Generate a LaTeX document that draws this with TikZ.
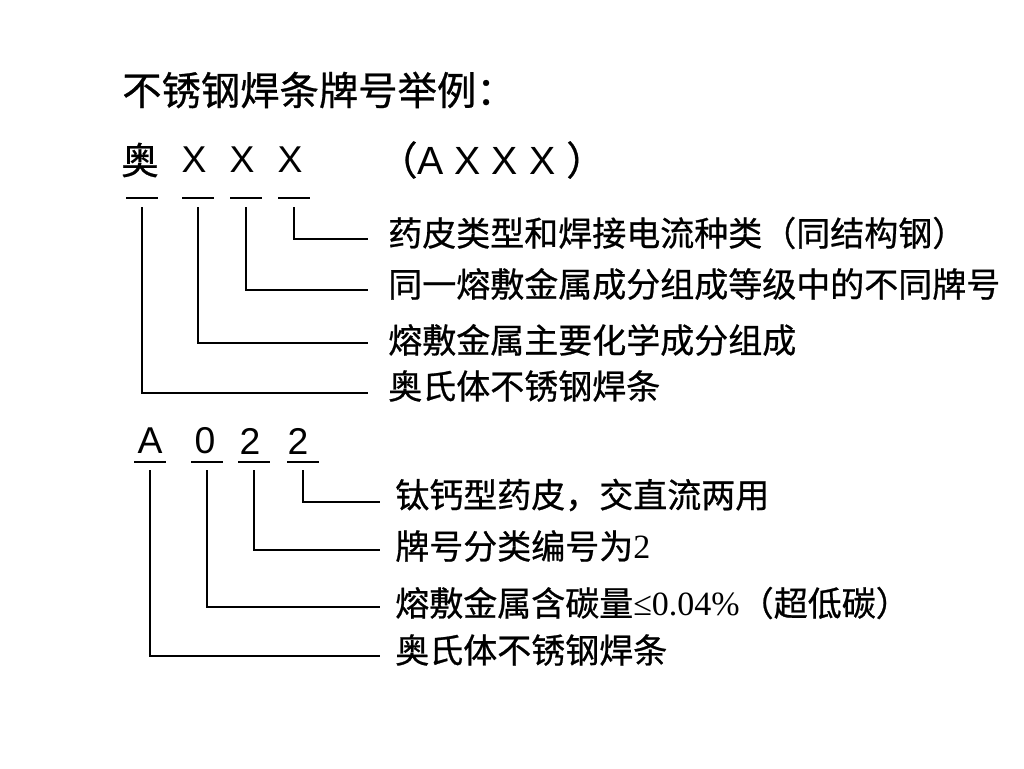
\documentclass[tikz,border=0pt]{standalone}
\usepackage{fontspec}
\setmainfont{Liberation Sans}
\newfontfamily\cjk[FakeBold=0.7]{Noto Sans CJK SC}
\newfontfamily\tnr{Liberation Serif}
\usetikzlibrary{positioning,calc}
\tikzset{
    bar/.style={
        ,   line width=1.5pt
        ,   draw=black
    },
    link/.style={
        ,   line width=1.5pt
        ,   draw=black
    },
    code/.style={
        ,   inner sep=0pt
        ,   font=\fontsize{28pt}{30pt}\selectfont
    },
    lbl/.style={
        ,   anchor=west
        ,   inner sep=0pt
        ,   font=\fontsize{25.5pt}{27pt}\selectfont\cjk
    },
}

\begin{document}
\begin{tikzpicture}[x=0.75pt, y=-0.75pt, inner sep=0pt]
	\fill[white] (0,0) rectangle (1024,768);
	\useasboundingbox (0,0) rectangle (1024,768);
	\node[code, anchor=west, font=\fontsize{29.5pt}{31pt}\selectfont] (title) at (122,90) {\cjk 不锈钢焊条牌号举例：};

	% first code: 奥 X X X
	\node[code] (c0) at (140,160) {\cjk 奥};
	\foreach \a/\x in {1/194,2/242,3/290}{
	\node[code] (c\a) at (\x,160) {X};
	}
	\node[code, anchor=west, font=\fontsize{29.5pt}{31pt}\selectfont] (cA) at (378,160) {{\cjk （}A X X X {\cjk ）}};

	\foreach \a/\x/\y/\ty/\t in {1/294/239/233/药皮类型和焊接电流种类（同结构钢）,
	                            2/246/290/284/同一熔敷金属成分组成等级中的不同牌号,
	                            3/198/343/340/熔敷金属主要化学成分组成,
	                            4/142/393/386/奥氏体不锈钢焊条}{
	\coordinate (tu\a) at (\x-16,198);
	\coordinate (tw\a) at (\x+16,198);
	\draw[bar] (tu\a) -- (tw\a);
	\coordinate (tv\a) at (\x,207);
	\coordinate (te\a) at (368,\y);
	\draw[link] (tv\a) |- (te\a);
	\node[lbl] (tl\a) at (388,\ty) {\t};
	}

	% second code: A 0 2 2
	\node[code] (d0) at (150,441) {A};
	\foreach \a/\x/\s in {1/205/0,2/250/2,3/298/2}{
	\node[code] (d\a) at (\x,441) {\s};
	}

	\foreach \a/\x/\y/\ty/\t in {1/303/502/495/钛钙型药皮，交直流两用,
	                            2/254/550/546/牌号分类编号为{\tnr 2},
	                            3/207/607/603/熔敷金属含碳量{\tnr ≤0.04\%}（超低碳）,
	                            4/150/656/650/奥氏体不锈钢焊条}{
	\coordinate (bu\a) at (\x-16,462);
	\coordinate (bw\a) at (\x+16,462);
	\draw[bar] (bu\a) -- (bw\a);
	\coordinate (bv\a) at (\x,470);
	\coordinate (be\a) at (380,\y);
	\draw[link] (bv\a) |- (be\a);
	\node[lbl] (bl\a) at (395,\ty) {\t};
	}
\end{tikzpicture}
\end{document}
